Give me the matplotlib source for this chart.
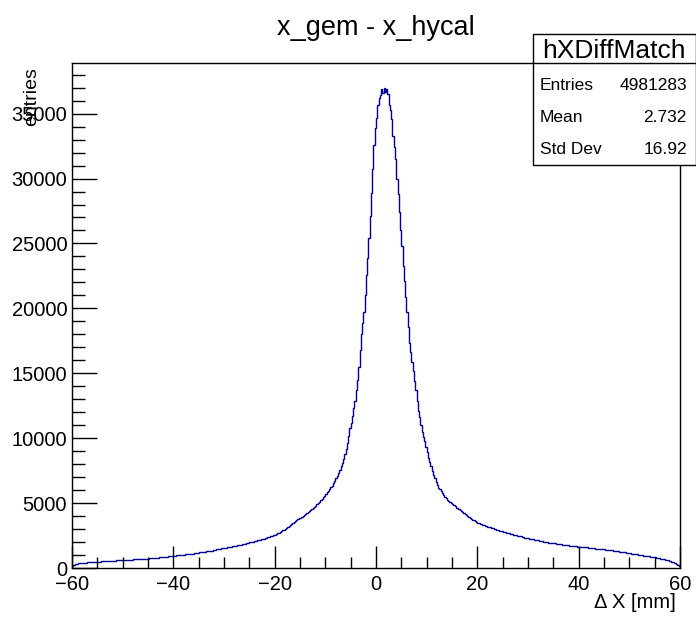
import numpy as np
import matplotlib
matplotlib.use("Agg")
import matplotlib.pyplot as plt
from matplotlib.patches import Rectangle
from matplotlib.ticker import MultipleLocator

plt.rcParams['font.family'] = ['Liberation Sans', 'DejaVu Sans']

# histogram range / binning (0.25 mm bins)
x_lo, x_hi, n_bins = -60, 60, 480

# bin contents, left to right, one row = 5 mm
counts = [
    170, 230, 275, 305, 335, 350, 360, 370, 395, 410, 410, 420, 430, 440, 440, 450, 460, 470, 470, 480,          # -60
    490, 500, 495, 505, 510, 520, 520, 530, 540, 550, 545, 552, 565, 575, 568, 578, 590, 598, 596, 604,          # -55
    608, 616, 618, 626, 630, 638, 644, 652, 658, 666, 664, 672, 680, 688, 688, 696, 702, 708, 708, 716,          # -50
    722, 734, 734, 742, 756, 768, 772, 784, 796, 810, 818, 834, 846, 858, 870, 882, 900, 916, 922, 934,          # -45
    946, 958, 964, 976, 988, 1000, 1002, 1014, 1036, 1048, 1050, 1062, 1078, 1090, 1100, 1112, 1136, 1152, 1160, 1172,  # -40
    1196, 1212, 1220, 1232, 1254, 1270, 1280, 1292, 1316, 1332, 1348, 1364, 1394, 1414, 1428, 1444, 1474, 1494, 1508, 1524,  # -35
    1552, 1572, 1588, 1604, 1636, 1652, 1660, 1672, 1704, 1724, 1738, 1754, 1784, 1804, 1826, 1846, 1874, 1894, 1916, 1936,  # -30
    1970, 1998, 2014, 2038, 2070, 2098, 2122, 2150, 2180, 2208, 2232, 2260, 2296, 2332, 2360, 2392, 2428, 2460, 2490, 2522,  # -25
    2556, 2604, 2660, 2708, 2760, 2816, 2890, 2958, 3022, 3090, 3168, 3240, 3300, 3372, 3456, 3532, 3600, 3672, 3746, 3822,  # -20
    3876, 3932, 3996, 4056, 4146, 4222, 4290, 4362, 4460, 4548, 4620, 4692, 4796, 4892, 5000, 5112, 5236, 5352, 5460, 5572,  # -15
    5700, 5820, 5940, 6060, 6210, 6350, 6520, 6680, 6900, 7100, 7330, 7570, 7820, 8080, 8420, 8780, 9180, 9620, 10200, 10800,  # -10
    11200, 11700, 12300, 12900, 13700, 14500, 15500, 16800, 18000, 18900, 19700, 21000, 22600, 23900, 25400, 27100, 28900, 30700, 32600, 33900,  # -5
    34700, 35700, 36200, 36400, 36900, 36600, 37000, 36700, 36900, 36500, 35700, 35300, 34600, 33300, 32400, 31500, 30000, 28800, 27400, 26000,  # 0
    24800, 23300, 22100, 20900, 19700, 18600, 17300, 16600, 15900, 15200, 14400, 13700, 12900, 12100, 11600, 11000, 10500, 10100, 9800, 9300,  # 5
    8900, 8500, 8200, 7850, 7500, 7200, 6900, 6600, 6400, 6200, 6050, 5900, 5750, 5620, 5500, 5380, 5270, 5170, 5080, 4990,  # 10
    4900, 4820, 4740, 4660, 4590, 4530, 4460, 4380, 4320, 4250, 4170, 4100, 4020, 3950, 3870, 3800, 3730, 3670, 3620, 3560,  # 15
    3500, 3460, 3420, 3390, 3340, 3310, 3270, 3230, 3190, 3150, 3120, 3090, 3050, 3010, 2990, 2960, 2920, 2880, 2870, 2840,  # 20
    2790, 2760, 2750, 2720, 2690, 2660, 2640, 2610, 2580, 2550, 2540, 2500, 2470, 2440, 2430, 2400, 2370, 2340, 2330, 2300,  # 25
    2280, 2250, 2250, 2220, 2200, 2170, 2170, 2140, 2120, 2090, 2090, 2060, 2040, 2010, 2000, 1980, 1960, 1950, 1940, 1920,  # 30
    1910, 1890, 1880, 1860, 1850, 1820, 1820, 1800, 1790, 1760, 1760, 1740, 1720, 1710, 1710, 1690, 1680, 1670, 1660, 1640,  # 35
    1640, 1620, 1620, 1600, 1600, 1580, 1580, 1560, 1560, 1530, 1540, 1520, 1510, 1490, 1500, 1480, 1470, 1460, 1460, 1440,  # 40
    1440, 1420, 1420, 1400, 1390, 1370, 1360, 1340, 1330, 1300, 1300, 1280, 1260, 1240, 1230, 1210, 1200, 1170, 1160, 1140,  # 45
    1130, 1110, 1100, 1090, 1070, 1050, 1040, 1020, 1010, 990, 980, 960, 950, 920, 920, 900, 880, 860, 850, 830,  # 50
    810, 790, 770, 750, 730, 700, 690, 670, 640, 610, 590, 560, 520, 480, 450, 400, 350, 290, 220, 150,  # 55
]

hist_name = "hXDiffMatch"
title = "x_gem - x_hycal"
stat_labels = ["Entries", "Mean", "Std Dev"]
stat_values = ["4981283", "2.732", "16.92"]

fig = plt.figure(figsize=(6.96, 6.17), dpi=100)
ax = fig.add_axes([72 / 696, 49 / 617, 608 / 696, 505 / 617])

edges = np.linspace(x_lo, x_hi, n_bins + 1)
ax.stairs(counts, edges, color='#000099', linewidth=1.0)

ax.set_xlim(x_lo, x_hi)
ax.set_ylim(0, 38900)

ax.xaxis.set_major_locator(MultipleLocator(20))
ax.xaxis.set_minor_locator(MultipleLocator(5))
ax.yaxis.set_major_locator(MultipleLocator(5000))
ax.yaxis.set_minor_locator(MultipleLocator(1000))
ax.tick_params(which='both', direction='in', top=False, right=False, labelsize=14.5, width=1)
ax.tick_params(axis='x', which='major', length=16, pad=5)
ax.tick_params(axis='x', which='minor', length=8)
ax.tick_params(axis='y', which='major', length=18, pad=3.5)
ax.tick_params(axis='y', which='minor', length=9)
for s in ax.spines.values():
    s.set_linewidth(1)

# titles
fig.text(375.5 / 696, 1 - 28 / 617, title, ha='center', va='center', fontsize=19.5)
fig.text(676 / 696, 1 - 603 / 617, "\u0394 X [mm]", ha='right', va='center', fontsize=14.5)
fig.text(32 / 696, 1 - 67 / 617, "entries", rotation=90, ha='center', va='top', fontsize=14)

# stats box
bx0, bx1 = 533 / 696, 695.5 / 696
by0, by1 = 1 - 165 / 617, 1 - 34 / 617
fig.add_artist(Rectangle((bx0, by0), bx1 - bx0, by1 - by0, transform=fig.transFigure,
                         facecolor='white', edgecolor='black', linewidth=1, zorder=5))
ydiv = 1 - 63 / 617
fig.add_artist(plt.Line2D([bx0, bx1], [ydiv, ydiv], transform=fig.transFigure,
                          color='black', linewidth=1, zorder=6))
fig.text(614 / 696, 1 - 51 / 617, hist_name, ha='center', va='center', fontsize=19, zorder=7)
for i, (lab, val) in enumerate(zip(stat_labels, stat_values)):
    yy = 1 - (85 + 32 * i) / 617
    fig.text(540 / 696, yy, lab, ha='left', va='center', fontsize=12.5, zorder=7)
    fig.text(687 / 696, yy, val, ha='right', va='center', fontsize=12.5, zorder=7)

fig.savefig("out.png", dpi=100)
